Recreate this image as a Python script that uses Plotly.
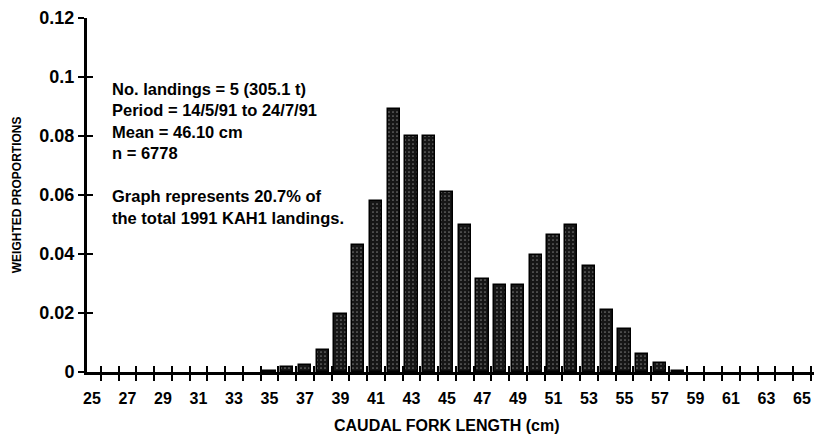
import plotly.graph_objects as go

# ---- data ----
lengths = [35, 36, 37, 38, 39, 40, 41, 42, 43, 44, 45, 46, 47, 48, 49, 50,
           51, 52, 53, 54, 55, 56, 57, 58]
proportions = [0.0004, 0.0018, 0.0025, 0.0075, 0.0195, 0.0430, 0.0580, 0.0890,
               0.0800, 0.0800, 0.0610, 0.0500, 0.0315, 0.0295, 0.0295, 0.0395,
               0.0465, 0.0500, 0.0360, 0.0210, 0.0145, 0.0060, 0.0030, 0.0004]
x_label_vals = list(range(25, 66, 2))
x_tick_labels = [str(v) for v in x_label_vals]
x_edges = [v + 0.5 for v in range(25, 66)]
y_tick_vals = [0, 0.02, 0.04, 0.06, 0.08, 0.1, 0.12]
y_tick_labels = ["0", "0.02", "0.04", "0.06", "0.08", "0.1", "0.12"]
info_lines = ["No. landings = 5 (305.1 t)",
              "Period = 14/5/91 to 24/7/91",
              "Mean = 46.10 cm",
              "n = 6778",
              "",
              "Graph represents 20.7% of",
              "the total 1991 KAH1 landings."]

FONT = "Liberation Sans, Arial, sans-serif"
XR = [24.72, 65.68]
YR = [0, 0.12]

fig = go.Figure()
fig.add_trace(go.Bar(
    x=lengths, y=proportions, width=0.69,
    marker=dict(color="#161616", line=dict(color="black", width=1.5),
                pattern=dict(shape=".", fgcolor="#cfcfcf", size=4, solidity=0.15)),
    showlegend=False, hoverinfo="skip"))
fig.add_trace(go.Scatter(x=[None], y=[None], xaxis="x2", yaxis="y2",
                         showlegend=False, hoverinfo="skip"))

fig.update_layout(
    width=814, height=436,
    margin=dict(l=87, r=0, t=18, b=64),
    paper_bgcolor="white", plot_bgcolor="white",
    font=dict(family=FONT, color="black"),
    bargap=0,
    xaxis=dict(range=XR, tickmode="array", tickvals=x_label_vals, ticktext=x_tick_labels,
               ticks="", showline=True, linewidth=3, linecolor="black",
               showgrid=False, zeroline=False, ticklabelstandoff=10,
               tickfont=dict(size=16, weight="bold", family=FONT),
               minor=dict(tickmode="array", tickvals=x_edges, ticks="outside",
                          ticklen=6, tickwidth=2, tickcolor="black", showgrid=False)),
    xaxis2=dict(range=XR, overlaying="x", anchor="y2", tickmode="array", tickvals=x_edges,
                ticks="inside", ticklen=6, tickwidth=2, tickcolor="black",
                showticklabels=False, showline=False, showgrid=False, zeroline=False),
    yaxis=dict(range=YR, tickmode="array", tickvals=y_tick_vals, ticktext=y_tick_labels,
               ticks="outside", ticklen=6, tickwidth=2, tickcolor="black",
               showline=True, linewidth=3, linecolor="black",
               showgrid=False, zeroline=False,
               tickfont=dict(size=18, weight="bold", family=FONT)),
    yaxis2=dict(range=YR, overlaying="y", anchor="x2", side="left", tickmode="array",
                tickvals=y_tick_vals, ticks="inside", ticklen=6, tickwidth=2,
                tickcolor="black", showticklabels=False, showline=False,
                showgrid=False, zeroline=False),
)

fig.add_annotation(xref="paper", yref="paper", x=0.032, y=0.83,
                   xanchor="left", yanchor="top", align="left", showarrow=False,
                   text="<br>".join(info_lines),
                   font=dict(size=16.5, weight="bold", family=FONT))
fig.add_annotation(xref="paper", yref="paper", x=-0.096, y=0.5,
                   xanchor="center", yanchor="middle", textangle=-90, showarrow=False,
                   text="WEIGHTED PROPORTIONS",
                   font=dict(size=12, weight="bold", family=FONT))
fig.add_annotation(xref="paper", yref="paper", x=0.495, y=-0.1525,
                   xanchor="center", yanchor="middle", showarrow=False,
                   text="CAUDAL FORK LENGTH (cm)",
                   font=dict(size=16, weight="bold", family=FONT))

fig.write_html("out.html",
               config={"displayModeBar": False},
               post_script="document.body.style.margin='0';"
                           "document.body.style.overflow='hidden';")
